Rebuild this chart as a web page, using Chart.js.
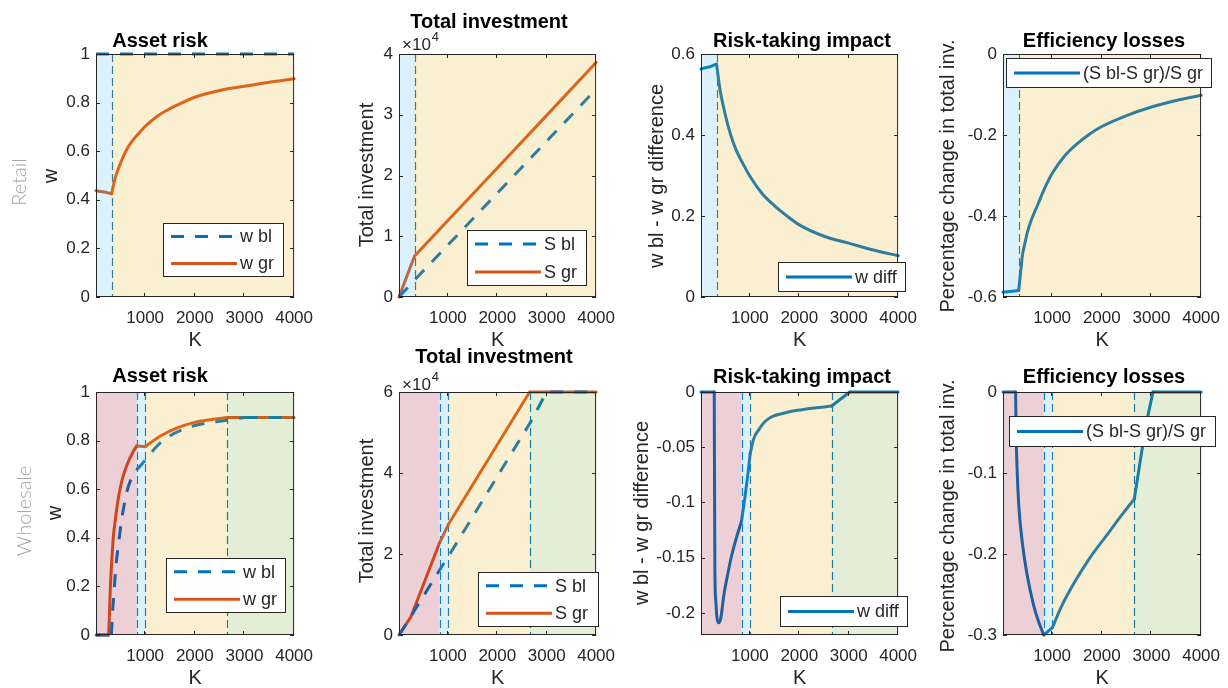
<!DOCTYPE html>
<html>
<head>
<meta charset="utf-8">
<script src="https://cdn.jsdelivr.net/npm/chart.js@4.4.1/dist/chart.umd.min.js"></script>
<style>
html, body { margin: 0; padding: 0; background: #fff; }
#wrap { position: relative; width: 1228px; height: 688px; overflow: hidden; }
#wrap canvas { position: absolute; }
</style>
</head>
<body>
<div id="wrap"></div>
<script>
// ---- data ----
const xTickVals = [1000, 2000, 3000, 4000];

// retail (top row)
const retailEdges = [10, 325, 4000];
const kRetFlat = [10, 4000];
const wBlRet = [1, 1];
const kRet = [10, 100, 200, 325, 360, 400, 450, 500, 575, 650, 725, 800, 900, 1000, 1250, 1500, 1750, 2000, 2500, 3000, 3500, 4000];
const wGrRet = [0.437, 0.434, 0.431, 0.425, 0.458, 0.492, 0.522, 0.549, 0.585, 0.614, 0.638, 0.657, 0.680, 0.702, 0.745, 0.775, 0.800, 0.822, 0.850, 0.867, 0.884, 0.898];
const wDiffRet = [0.563, 0.566, 0.569, 0.575, 0.542, 0.508, 0.478, 0.451, 0.415, 0.386, 0.362, 0.343, 0.320, 0.298, 0.255, 0.225, 0.200, 0.178, 0.150, 0.133, 0.116, 0.102];
const effRet = [-0.588, -0.587, -0.586, -0.584, -0.545, -0.498, -0.468, -0.441, -0.412, -0.389, -0.368, -0.345, -0.318, -0.295, -0.252, -0.222, -0.198, -0.179, -0.152, -0.131, -0.115, -0.102];
const kRetS = [10, 325, 1000, 2000, 3000, 4000];
const sBlRet = [0, 2800, 8550, 17100, 25650, 34200];
const sGrRet = [0, 6750, 12600, 21250, 29900, 38600];

// wholesale (bottom row)
const wholesaleEdges = [10, 830, 1005, 2655, 4000];
const kWhGr = [10, 263, 280, 296, 315, 330, 362, 400, 428, 475, 526, 590, 658, 756, 830, 1005, 1100, 1316, 1645, 1974, 2300, 2655, 3000, 4000];
const wGrWh = [0, 0, 0.08, 0.18, 0.26, 0.314, 0.41, 0.475, 0.52, 0.58, 0.63, 0.675, 0.712, 0.753, 0.778, 0.775, 0.79, 0.82, 0.852, 0.874, 0.886, 0.895, 0.895, 0.895];
const kWhBl = [10, 320, 340, 370, 410, 460, 520, 590, 660, 740, 830, 920, 1005, 1100, 1250, 1500, 1750, 2000, 2300, 2655, 2800, 3000, 4000];
const wBlWh = [0, 0, 0.08, 0.17, 0.28, 0.37, 0.465, 0.55, 0.61, 0.65, 0.68, 0.70, 0.72, 0.745, 0.78, 0.82, 0.845, 0.862, 0.874, 0.884, 0.89, 0.895, 0.895];
const kWhS = [10, 251, 320, 830, 1005, 2655, 3000, 4000];
const sGrWh = [0, 4470, 6650, 22700, 27200, 60000, 60000, 60000];
const sBlWh = [0, 4470, 6000, 16000, 19300, 52200, 60000, 60000];
const kWhD = [10, 278, 291, 311, 330, 364, 410, 476, 560, 641, 740, 830, 900, 960, 1005, 1080, 1170, 1300, 1434, 1700, 1963, 2300, 2655, 3021, 4000];
const wDiffWh = [0, 0, -0.16, -0.19, -0.203, -0.209, -0.205, -0.183, -0.163, -0.146, -0.13, -0.117, -0.095, -0.074, -0.056, -0.042, -0.0347, -0.027, -0.0226, -0.019, -0.0166, -0.0145, -0.0127, 0, 0];
const kWhE = [10, 264, 277, 297, 330, 395, 494, 626, 725, 830, 1005, 1186, 1450, 1746, 2109, 2438, 2655, 2900, 3031, 4000];
const effWh = [0, 0, -0.059, -0.1, -0.142, -0.184, -0.225, -0.263, -0.283, -0.30, -0.291, -0.265, -0.235, -0.206, -0.176, -0.149, -0.132, -0.0386, 0, 0];

// K values where a curve has a corner
const retKinks = [325];
const whGrKinks = [263, 830, 1005, 2655];
const whBlKinks = [320, 3000];
const whDiffKinks = [278, 830, 1005, 2655, 3021];
const whEffKinks = [264, 830, 1005, 2655, 3031];

const yTicksW = [0, 0.2, 0.4, 0.6, 0.8, 1];
const yTicksSRet = [0, 10000, 20000, 30000, 40000];
const yTicksDiffRet = [0, 0.2, 0.4, 0.6];
const yTicksEffRet = [-0.6, -0.4, -0.2, 0];
const yTicksSWh = [0, 20000, 40000, 60000];
const yTicksDiffWh = [-0.2, -0.15, -0.1, -0.05, 0];
const yTicksEffWh = [-0.3, -0.2, -0.1, 0];

// ---- styling ----
const FONT = '"Liberation Sans", Arial, Helvetica, sans-serif';
const BLUE = '#0072BD', ORANGE = '#D95319', AX = '#262626';
const PATCH = {
  blue: 'rgba(77,190,238,0.2)', yellow: 'rgba(237,177,32,0.2)',
  red: 'rgba(162,20,47,0.2)', green: 'rgba(119,172,48,0.2)'
};
const DASH = [13, 11];
const PAD_L = 95, PAD_T = 60, PAD_R = 25, PAD_B = 55;

const fmt = v => String(parseFloat(v.toFixed(3)));
const fmtS = v => String(parseFloat((v / 1e4).toFixed(3)));

const panels = [
  { plot: [96, 54, 299, 297], title: 'Asset risk', titleAt: [160, 41], ylab: 'w', ylabAt: [51, 176], kAt: 340,
    legend: [163, 223, 284, 277], row: ['Retail', 20, 182],
    edges: retailEdges, fills: ['blue', 'yellow'], yMin: 0, yMax: 1, yTicks: yTicksW, fmt: fmt,
    series: [ { label: 'w bl', xs: kRetFlat, ys: wBlRet, color: BLUE, dash: true, straight: true },
              { label: 'w gr', xs: kRet, ys: wGrRet, color: ORANGE, kinks: retKinks } ] },
  { plot: [399, 54, 601, 297], title: 'Total investment', titleAt: [489, 22], ylab: 'Total investment', ylabAt: [367, 175], kAt: 340,
    legend: [467, 230, 587, 286], expAt: [402, 45],
    edges: retailEdges, fills: ['blue', 'yellow'], yMin: 0, yMax: 40000, yTicks: yTicksSRet, fmt: fmtS,
    series: [ { label: 'S bl', xs: kRetS, ys: sBlRet, color: BLUE, dash: true, straight: true },
              { label: 'S gr', xs: kRetS, ys: sGrRet, color: ORANGE, straight: true } ] },
  { plot: [701, 54, 903, 297], title: 'Risk-taking impact', titleAt: [802, 41], ylab: 'w bl - w gr difference', ylabAt: [657, 176], kAt: 340,
    legend: [778, 262, 906, 292],
    edges: retailEdges, fills: ['blue', 'yellow'], yMin: 0, yMax: 0.6, yTicks: yTicksDiffRet, fmt: fmt,
    series: [ { label: 'w diff', xs: kRet, ys: wDiffRet, color: BLUE, kinks: retKinks } ] },
  { plot: [1003, 54, 1206, 297], title: 'Efficiency losses', titleAt: [1104, 41], ylab: 'Percentage change in total inv.', ylabAt: [948, 176], kAt: 340,
    legend: [1006, 58, 1212, 88],
    edges: retailEdges, fills: ['blue', 'yellow'], yMin: -0.6, yMax: 0, yTicks: yTicksEffRet, fmt: fmt,
    series: [ { label: '(S bl-S gr)/S gr', xs: kRet, ys: effRet, color: BLUE, kinks: retKinks } ] },
  { plot: [96, 392, 299, 635], title: 'Asset risk', titleAt: [160, 376], ylab: 'w', ylabAt: [55, 513], kAt: 678,
    legend: [166, 558, 286, 613], row: ['Wholesale', 25, 511],
    edges: wholesaleEdges, fills: ['red', 'blue', 'yellow', 'green'], yMin: 0, yMax: 1, yTicks: yTicksW, fmt: fmt,
    series: [ { label: 'w bl', xs: kWhBl, ys: wBlWh, color: BLUE, dash: true, kinks: whBlKinks },
              { label: 'w gr', xs: kWhGr, ys: wGrWh, color: ORANGE, kinks: whGrKinks } ] },
  { plot: [399, 392, 601, 635], title: 'Total investment', titleAt: [494, 357], ylab: 'Total investment', ylabAt: [367, 511], kAt: 678,
    legend: [478, 572, 599, 627], expAt: [402, 385],
    edges: wholesaleEdges, fills: ['red', 'blue', 'yellow', 'green'], yMin: 0, yMax: 60000, yTicks: yTicksSWh, fmt: fmtS,
    series: [ { label: 'S bl', xs: kWhS, ys: sBlWh, color: BLUE, dash: true, straight: true },
              { label: 'S gr', xs: kWhS, ys: sGrWh, color: ORANGE, straight: true } ] },
  { plot: [701, 392, 903, 635], title: 'Risk-taking impact', titleAt: [802, 377], ylab: 'w bl - w gr difference', ylabAt: [642, 513], kAt: 678,
    legend: [780, 596, 908, 627],
    edges: wholesaleEdges, fills: ['red', 'blue', 'yellow', 'green'], yMin: -0.22, yMax: 0, yTicks: yTicksDiffWh, fmt: fmt,
    series: [ { label: 'w diff', xs: kWhD, ys: wDiffWh, color: BLUE, kinks: whDiffKinks } ] },
  { plot: [1003, 392, 1206, 635], title: 'Efficiency losses', titleAt: [1104, 377], ylab: 'Percentage change in total inv.', ylabAt: [948, 516], kAt: 678,
    legend: [1009, 416, 1216, 447],
    edges: wholesaleEdges, fills: ['red', 'blue', 'yellow', 'green'], yMin: -0.3, yMax: 0, yTicks: yTicksEffWh, fmt: fmt,
    series: [ { label: '(S bl-S gr)/S gr', xs: kWhE, ys: effWh, color: BLUE, kinks: whEffKinks } ] }
];

function pts(xs, ys) {
  return xs.map((x, i) => ({ x: x, y: ys[i] }));
}

// cut a series at its corners so the smoothing stays inside each piece
function pieces(s) {
  const all = pts(s.xs, s.ys);
  if (!s.kinks) return [all];
  const out = [];
  let cur = [];
  all.forEach(pt => {
    cur.push(pt);
    if (s.kinks.includes(pt.x)) {
      out.push(cur);
      cur = [pt];
    }
  });
  if (cur.length > 1) out.push(cur);
  return out;
}

function makeDecor(p, ox, oy) {
  return {
    id: 'decor',
    beforeDatasetsDraw(chart) {
      const { ctx, chartArea: a, scales: { x } } = chart;
      ctx.save();
      ctx.strokeStyle = BLUE;
      ctx.lineWidth = 1.2;
      ctx.setLineDash([8, 4]);
      p.edges.slice(1, -1).forEach(k => {
        const xx = Math.round(x.getPixelForValue(k)) + 0.5;
        ctx.beginPath();
        ctx.moveTo(xx, a.top);
        ctx.lineTo(xx, a.bottom);
        ctx.stroke();
      });
      ctx.restore();
    },
    afterDatasetsDraw(chart) {
      const { ctx, chartArea: a, scales: { x, y } } = chart;
      ctx.save();
      // shaded regimes lie on top of the curves, like semi-transparent patches
      for (let i = 0; i < p.fills.length; i++) {
        const x0 = x.getPixelForValue(p.edges[i]);
        const x1 = x.getPixelForValue(p.edges[i + 1]);
        ctx.fillStyle = PATCH[p.fills[i]];
        ctx.fillRect(x0, a.top, x1 - x0, a.bottom - a.top);
      }
      // box and inward ticks
      ctx.strokeStyle = AX;
      ctx.lineWidth = 1;
      ctx.strokeRect(a.left + 0.5, a.top + 0.5, a.right - a.left - 1, a.bottom - a.top - 1);
      ctx.beginPath();
      xTickVals.forEach(v => {
        const xx = Math.round(x.getPixelForValue(v)) - 0.5;
        ctx.moveTo(xx, a.bottom); ctx.lineTo(xx, a.bottom - 4);
        ctx.moveTo(xx, a.top); ctx.lineTo(xx, a.top + 4);
      });
      p.yTicks.forEach(v => {
        const yy = Math.round(y.getPixelForValue(v)) + 0.5;
        ctx.moveTo(a.left, yy); ctx.lineTo(a.left + 4, yy);
        ctx.moveTo(a.right, yy); ctx.lineTo(a.right - 4, yy);
      });
      ctx.stroke();
      ctx.restore();
    },
    afterDraw(chart) {
      const { ctx, chartArea: a } = chart;
      ctx.save();
      ctx.textBaseline = 'middle';
      // title
      ctx.fillStyle = '#000';
      ctx.font = 'bold 20px ' + FONT;
      ctx.textAlign = 'center';
      ctx.fillText(p.title, p.titleAt[0] - ox, p.titleAt[1] - oy);
      // x label
      ctx.fillStyle = AX;
      ctx.font = '20px ' + FONT;
      ctx.fillText('K', (a.left + a.right) / 2, p.kAt - oy);
      // y label
      ctx.save();
      ctx.translate(p.ylabAt[0] - ox, p.ylabAt[1] - oy);
      ctx.rotate(-Math.PI / 2);
      ctx.fillText(p.ylab, 0, 0);
      ctx.restore();
      // row label
      if (p.row) {
        ctx.save();
        ctx.fillStyle = '#a3a3a3';
        ctx.font = '300 20px Lato, ' + FONT;
        ctx.translate(p.row[1] - ox, p.row[2] - oy);
        ctx.rotate(-Math.PI / 2);
        ctx.fillText(p.row[0], 0, 0);
        ctx.restore();
      }
      // exponent
      if (p.expAt) {
        ctx.textAlign = 'left';
        ctx.font = '17px ' + FONT;
        const ex = p.expAt[0] - ox, ey = p.expAt[1] - oy;
        ctx.fillText('\u00d710', ex, ey);
        const w = ctx.measureText('\u00d710').width;
        ctx.font = '13px ' + FONT;
        ctx.fillText('4', ex + w + 1, ey - 8);
      }
      // legend
      const l = p.legend[0] - ox, t = p.legend[1] - oy, r = p.legend[2] - ox, b = p.legend[3] - oy;
      ctx.fillStyle = '#fff';
      ctx.fillRect(l, t, r - l, b - t);
      ctx.strokeStyle = AX;
      ctx.lineWidth = 1;
      ctx.strokeRect(l + 0.5, t + 0.5, r - l - 1, b - t - 1);
      const rowH = (b - t) / p.series.length;
      p.series.forEach((s, i) => {
        const cy = t + rowH * (i + 0.5);
        ctx.strokeStyle = s.color;
        ctx.lineWidth = 3;
        ctx.setLineDash(s.dash ? DASH : []);
        ctx.beginPath();
        ctx.moveTo(l + 8, cy);
        ctx.lineTo(l + 74, cy);
        ctx.stroke();
        ctx.setLineDash([]);
        ctx.fillStyle = AX;
        ctx.font = '18px ' + FONT;
        ctx.textAlign = 'left';
        ctx.fillText(s.label, l + 77, cy + 1);
      });
      ctx.restore();
    }
  };
}

const wrap = document.getElementById('wrap');

panels.forEach(p => {
  const [pl, pt, pr, pb] = p.plot;
  const ox = pl - PAD_L, oy = pt - PAD_T;
  const cv = document.createElement('canvas');
  cv.width = pr - pl + PAD_L + PAD_R;
  cv.height = pb - pt + PAD_T + PAD_B;
  cv.style.left = ox + 'px';
  cv.style.top = oy + 'px';
  cv.style.width = cv.width + 'px';
  cv.style.height = cv.height + 'px';
  wrap.appendChild(cv);

  const datasets = [];
  p.series.forEach(s => {
    pieces(s).forEach(seg => {
      datasets.push({
        label: s.label,
        data: seg,
        showLine: true,
        borderColor: s.color,
        backgroundColor: s.color,
        borderWidth: 3,
        borderDash: s.dash ? DASH : [],
        borderJoinStyle: 'round',
        borderCapStyle: s.dash ? 'butt' : 'round',
        cubicInterpolationMode: s.straight ? 'default' : 'monotone',
        tension: 0,
        pointRadius: 0,
        pointHoverRadius: 0,
        fill: false,
        clip: 4
      });
    });
  });

  new Chart(cv, {
    type: 'scatter',
    data: { datasets: datasets },
    options: {
      responsive: false,
      animation: false,
      devicePixelRatio: 1,
      events: [],
      layout: { padding: { left: 0, top: PAD_T, right: PAD_R, bottom: 0 } },
      plugins: { legend: { display: false }, tooltip: { enabled: false } },
      scales: {
        x: {
          type: 'linear', min: 10, max: 4000,
          afterBuildTicks: s => { s.ticks = xTickVals.map(v => ({ value: v })); },
          afterFit: s => { s.height = PAD_B; },
          grid: { display: false, drawTicks: false },
          border: { display: false },
          ticks: { padding: 11, autoSkip: false, maxRotation: 0, color: AX,
                   font: { family: FONT, size: 17 }, callback: v => String(v) }
        },
        y: {
          type: 'linear', min: p.yMin, max: p.yMax,
          afterBuildTicks: s => { s.ticks = p.yTicks.map(v => ({ value: v })); },
          afterFit: s => { s.width = PAD_L; },
          grid: { display: false, drawTicks: false },
          border: { display: false },
          ticks: { padding: 6, autoSkip: false, color: AX,
                   font: { family: FONT, size: 17 }, callback: v => p.fmt(v) }
        }
      }
    },
    plugins: [makeDecor(p, ox, oy)]
  });
});
</script>
</body>
</html>
